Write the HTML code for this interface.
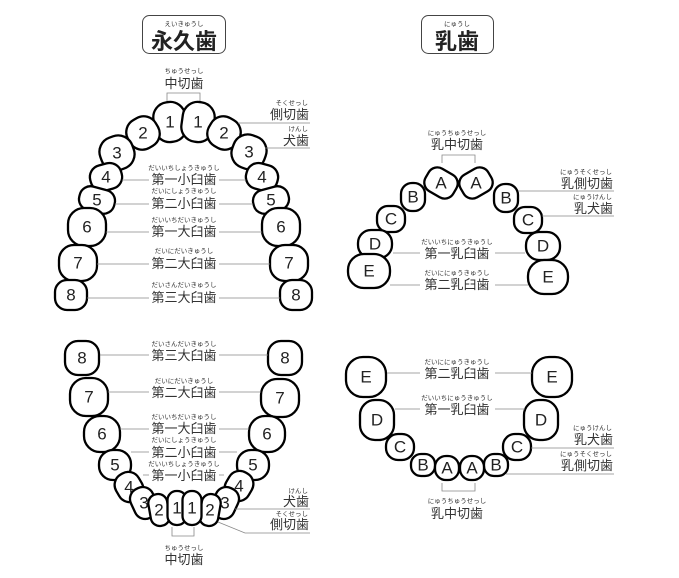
<!DOCTYPE html>
<html><head><meta charset="utf-8"><style>
html,body{margin:0;padding:0;background:#fff}
svg{display:block}
text{font-family:"Liberation Sans","Noto Sans CJK JP",sans-serif;fill:#222}
.t rect{fill:#fff;stroke:#000;stroke-width:2.3}
.t text{font-size:17px;text-anchor:middle;dominant-baseline:central}
.k{font-size:13px;text-anchor:middle;fill:#333}
.f{font-size:6.5px;text-anchor:middle;fill:#333}
.kr{font-size:13px;text-anchor:end;fill:#333}
.fr{font-size:6.5px;text-anchor:end;fill:#333}
.l{stroke:#888;stroke-width:0.8;fill:none}
</style></head><body>
<svg width="679" height="578" viewBox="0 0 679 578" xmlns="http://www.w3.org/2000/svg">
<rect x="142.5" y="15.5" width="83" height="38" rx="7" fill="#fff" stroke="#444" stroke-width="1"/>
<text x="184" y="26" class="f">えいきゅうし</text>
<text x="184" y="49" style="font-size:22px;text-anchor:middle;font-weight:bold">永久歯</text>
<rect x="421.5" y="15.5" width="72" height="38" rx="7" fill="#fff" stroke="#444" stroke-width="1"/>
<text x="457" y="26" class="f">にゅうし</text>
<text x="457" y="49" style="font-size:22px;text-anchor:middle;font-weight:bold">乳歯</text>

<!-- Upper permanent -->
<text x="184" y="73" class="f">ちゅうせっし</text>
<text x="184" y="88" class="k">中切歯</text>
<path class="l" d="M167 102V93H200V102"/>
<g class="t">
<g transform="translate(170,122) rotate(-8)"><rect x="-16" y="-20" width="32" height="40" rx="15"/><text transform="rotate(8)">1</text></g>
<g transform="translate(198,122) rotate(8)"><rect x="-16" y="-20" width="32" height="40" rx="15"/><text transform="rotate(-8)">1</text></g>
<g transform="translate(143,133) rotate(-30)"><rect x="-16" y="-16" width="32" height="32" rx="14"/><text transform="rotate(30)">2</text></g>
<g transform="translate(224,133) rotate(30)"><rect x="-16" y="-16" width="32" height="32" rx="14"/><text transform="rotate(-30)">2</text></g>
<g transform="translate(117,153) rotate(-20)"><rect x="-17" y="-17" width="34" height="34" rx="15"/><text transform="rotate(20)">3</text></g>
<g transform="translate(249,152) rotate(20)"><rect x="-17" y="-17" width="34" height="34" rx="15"/><text transform="rotate(-20)">3</text></g>
<g transform="translate(106,177) rotate(-15)"><rect x="-16" y="-13" width="32" height="26" rx="12"/><text transform="rotate(15)">4</text></g>
<g transform="translate(262,177) rotate(15)"><rect x="-16" y="-13" width="32" height="26" rx="12"/><text transform="rotate(-15)">4</text></g>
<g transform="translate(97,200) rotate(15)"><rect x="-18" y="-12" width="36" height="24" rx="11"/><text transform="rotate(-15)">5</text></g>
<g transform="translate(271,200) rotate(-15)"><rect x="-18" y="-12" width="36" height="24" rx="11"/><text transform="rotate(15)">5</text></g>
<g transform="translate(87,227)"><rect x="-19" y="-19" width="38" height="38" rx="16"/><text>6</text></g>
<g transform="translate(281,227)"><rect x="-19" y="-19" width="38" height="38" rx="16"/><text>6</text></g>
<g transform="translate(78,263)"><rect x="-19" y="-18" width="38" height="36" rx="15"/><text>7</text></g>
<g transform="translate(289,263)"><rect x="-19" y="-18" width="38" height="36" rx="15"/><text>7</text></g>
<g transform="translate(71,295)"><rect x="-16" y="-15" width="32" height="30" rx="12"/><text>8</text></g>
<g transform="translate(296,295)"><rect x="-16" y="-15" width="32" height="30" rx="12"/><text>8</text></g>
</g>
<text x="308" y="105" class="fr">そくせっし</text>
<text x="309" y="119" class="kr">側切歯</text>
<path class="l" d="M238 123H310"/>
<text x="308" y="131" class="fr">けんし</text>
<text x="309" y="145" class="kr">犬歯</text>
<path class="l" d="M265 148H310"/>
<text x="184" y="170" class="f">だいいちしょうきゅうし</text>
<text x="184" y="184" class="k">第一小臼歯</text>
<path class="l" d="M122 180H149M219 180H246"/>
<text x="184" y="193" class="f">だいにしょうきゅうし</text>
<text x="184" y="208" class="k">第二小臼歯</text>
<path class="l" d="M115 204H149M219 204H253"/>
<text x="184" y="222" class="f">だいいちだいきゅうし</text>
<text x="184" y="236" class="k">第一大臼歯</text>
<path class="l" d="M106 232H149M219 232H262"/>
<text x="184" y="253" class="f">だいにだいきゅうし</text>
<text x="184" y="268" class="k">第二大臼歯</text>
<path class="l" d="M97 264H149M219 264H270"/>
<text x="184" y="287" class="f">だいさんだいきゅうし</text>
<text x="184" y="302" class="k">第三大臼歯</text>
<path class="l" d="M87 298H149M219 298H280"/>

<!-- Lower permanent -->
<g class="t">
<g transform="translate(82,358)"><rect x="-17" y="-17" width="34" height="34" rx="13"/><text>8</text></g>
<g transform="translate(285,358)"><rect x="-17" y="-17" width="34" height="34" rx="13"/><text>8</text></g>
<g transform="translate(89,397)"><rect x="-19" y="-19" width="38" height="38" rx="16"/><text>7</text></g>
<g transform="translate(280,398)"><rect x="-19" y="-19" width="38" height="38" rx="16"/><text>7</text></g>
<g transform="translate(102,434)"><rect x="-18" y="-18" width="36" height="36" rx="16"/><text>6</text></g>
<g transform="translate(267,434)"><rect x="-18" y="-18" width="36" height="36" rx="16"/><text>6</text></g>
<g transform="translate(115,465)"><rect x="-16" y="-15" width="32" height="30" rx="14"/><text>5</text></g>
<g transform="translate(253,465)"><rect x="-16" y="-15" width="32" height="30" rx="14"/><text>5</text></g>
<g transform="translate(129,487) rotate(-30)"><rect x="-13" y="-15" width="26" height="30" rx="12"/><text transform="rotate(30)">4</text></g>
<g transform="translate(239,486) rotate(30)"><rect x="-13" y="-15" width="26" height="30" rx="12"/><text transform="rotate(-30)">4</text></g>
<g transform="translate(144,503) rotate(-25)"><rect x="-12" y="-16" width="24" height="32" rx="11"/><text transform="rotate(25)">3</text></g>
<g transform="translate(225,503) rotate(25)"><rect x="-12" y="-16" width="24" height="32" rx="11"/><text transform="rotate(-25)">3</text></g>
<g transform="translate(159,510) rotate(-10)"><rect x="-9.5" y="-16" width="19" height="32" rx="9"/><text transform="rotate(10)">2</text></g>
<g transform="translate(210,510) rotate(10)"><rect x="-9.5" y="-16" width="19" height="32" rx="9"/><text transform="rotate(-10)">2</text></g>
<g transform="translate(177,508)"><rect x="-9.5" y="-17" width="19" height="34" rx="9"/><text>1</text></g>
<g transform="translate(192,508)"><rect x="-9.5" y="-17" width="19" height="34" rx="9"/><text>1</text></g>
</g>
<text x="184" y="346" class="f">だいさんだいきゅうし</text>
<text x="184" y="360" class="k">第三大臼歯</text>
<path class="l" d="M100 355H149M219 355H268"/>
<text x="184" y="383" class="f">だいにだいきゅうし</text>
<text x="184" y="397" class="k">第二大臼歯</text>
<path class="l" d="M108 392H149M219 392H261"/>
<text x="184" y="419" class="f">だいいちだいきゅうし</text>
<text x="184" y="433" class="k">第一大臼歯</text>
<path class="l" d="M120 429H149M219 429H249"/>
<text x="184" y="442" class="f">だいにしょうきゅうし</text>
<text x="184" y="457" class="k">第二小臼歯</text>
<path class="l" d="M131 452H149M219 452H237"/>
<text x="184" y="466" class="f">だいいちしょうきゅうし</text>
<text x="184" y="480" class="k">第一小臼歯</text>
<path class="l" d="M143 475H149M219 475H224"/>
<text x="308" y="493" class="fr">けんし</text>
<text x="309" y="506" class="kr">犬歯</text>
<path class="l" d="M235 509H310"/>
<text x="308" y="516" class="fr">そくせっし</text>
<text x="309" y="529" class="kr">側切歯</text>
<path class="l" d="M218 522L245 533H310"/>
<path class="l" d="M172 527V536H194V527"/>
<text x="184" y="550" class="f">ちゅうせっし</text>
<text x="184" y="564" class="k">中切歯</text>

<!-- Upper primary -->
<text x="457" y="135" class="f">にゅうちゅうせっし</text>
<text x="457" y="149" class="k">乳中切歯</text>
<path class="l" d="M442 163V155H475V163"/>
<g class="t">
<g transform="translate(441,183) rotate(30)"><rect x="-16" y="-13" width="32" height="26" rx="10"/><text transform="rotate(-30)">A</text></g>
<g transform="translate(476,183) rotate(-30)"><rect x="-16" y="-13" width="32" height="26" rx="10"/><text transform="rotate(30)">A</text></g>
<g transform="translate(413,197)"><rect x="-12" y="-14" width="24" height="28" rx="11"/><text>B</text></g>
<g transform="translate(506,198)"><rect x="-12" y="-14" width="24" height="28" rx="11"/><text>B</text></g>
<g transform="translate(391,219)"><rect x="-14" y="-13" width="28" height="26" rx="11"/><text>C</text></g>
<g transform="translate(528,220)"><rect x="-14" y="-13" width="28" height="26" rx="11"/><text>C</text></g>
<g transform="translate(375,244)"><rect x="-17" y="-14" width="34" height="28" rx="13"/><text>D</text></g>
<g transform="translate(543,246)"><rect x="-17" y="-14" width="34" height="28" rx="13"/><text>D</text></g>
<g transform="translate(369,271)"><rect x="-21" y="-17" width="42" height="34" rx="16"/><text>E</text></g>
<g transform="translate(548,277)"><rect x="-20" y="-17" width="40" height="34" rx="16"/><text>E</text></g>
</g>
<text x="612" y="174" class="fr">にゅうそくせっし</text>
<text x="613" y="188" class="kr">乳側切歯</text>
<path class="l" d="M518 191H614"/>
<text x="612" y="199" class="fr">にゅうけんし</text>
<text x="613" y="213" class="kr">乳犬歯</text>
<path class="l" d="M542 216H614"/>
<text x="457" y="244" class="f">だいいちにゅうきゅうし</text>
<text x="457" y="258" class="k">第一乳臼歯</text>
<path class="l" d="M393 253H420M495 253H525"/>
<text x="457" y="275" class="f">だいににゅうきゅうし</text>
<text x="457" y="289" class="k">第二乳臼歯</text>
<path class="l" d="M390 285H420M495 285H528"/>

<!-- Lower primary -->
<g class="t">
<g transform="translate(366,377)"><rect x="-20" y="-20" width="40" height="40" rx="17"/><text>E</text></g>
<g transform="translate(552,377)"><rect x="-20" y="-20" width="40" height="40" rx="17"/><text>E</text></g>
<g transform="translate(377,420)"><rect x="-17" y="-20" width="34" height="40" rx="15"/><text>D</text></g>
<g transform="translate(541,420)"><rect x="-17" y="-20" width="34" height="40" rx="15"/><text>D</text></g>
<g transform="translate(400,447)"><rect x="-14" y="-13" width="28" height="26" rx="12"/><text>C</text></g>
<g transform="translate(517,447)"><rect x="-14" y="-13" width="28" height="26" rx="12"/><text>C</text></g>
<g transform="translate(423,465)"><rect x="-12" y="-11" width="24" height="22" rx="10"/><text>B</text></g>
<g transform="translate(496,465)"><rect x="-12" y="-11" width="24" height="22" rx="10"/><text>B</text></g>
<g transform="translate(447,468)"><rect x="-12" y="-12" width="24" height="24" rx="11"/><text>A</text></g>
<g transform="translate(472,468)"><rect x="-12" y="-12" width="24" height="24" rx="11"/><text>A</text></g>
</g>
<text x="457" y="364" class="f">だいににゅうきゅうし</text>
<text x="457" y="378" class="k">第二乳臼歯</text>
<path class="l" d="M387 373H420M495 373H532"/>
<text x="457" y="400" class="f">だいいちにゅうきゅうし</text>
<text x="457" y="414" class="k">第一乳臼歯</text>
<path class="l" d="M395 409H420M495 409H525"/>
<text x="612" y="430" class="fr">にゅうけんし</text>
<text x="613" y="444" class="kr">乳犬歯</text>
<path class="l" d="M531 448H614"/>
<text x="612" y="456" class="fr">にゅうそくせっし</text>
<text x="613" y="470" class="kr">乳側切歯</text>
<path class="l" d="M506 474H614"/>
<path class="l" d="M442 483V491H475V483"/>
<text x="457" y="503" class="f">にゅうちゅうせっし</text>
<text x="457" y="518" class="k">乳中切歯</text>
</svg>
</body></html>
